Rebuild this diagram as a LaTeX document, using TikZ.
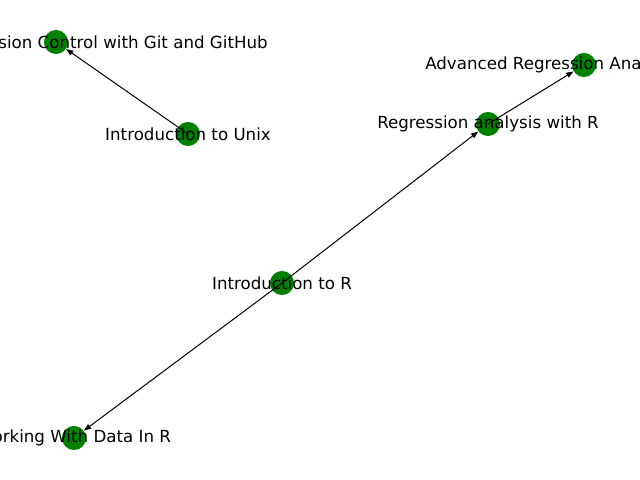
\documentclass[tikz,border=0pt]{standalone}
\usepackage{fontspec}
\setmainfont{DejaVu Sans}
\usetikzlibrary{arrows.meta}
\begin{document}
\begin{tikzpicture}[x=0.72pt,y=-0.72pt,
  vertex/.style={circle,fill=green!50!black,minimum size=17.3pt,inner sep=0pt,draw=none},
  lbl/.style={font=\fontsize{12pt}{14pt}\selectfont,inner sep=0pt,text=black},
  edge/.style={draw=black,line width=0.72pt,-{Triangle[length=5.2pt,width=3.8pt]}}]
\useasboundingbox (0,0) rectangle (640,480);
\clip (0,0) rectangle (640,480);
\fill[white] (0,0) rectangle (640,480);
\node[vertex] (vc) at (56,42) {};
\node[vertex] (ux) at (188,134) {};
\node[vertex] (ar) at (584,65) {};
\node[vertex] (rr) at (488,124) {};
\node[vertex] (ir) at (282,283) {};
\node[vertex] (wd) at (74,438) {};
\draw[edge] (ux.center) -- (vc);
\draw[edge] (ir.center) -- (rr);
\draw[edge] (rr.center) -- (ar);
\draw[edge] (ir.center) -- (wd);
\node[lbl,anchor=east] (tvc) at ([xshift=212*0.72pt]vc.center) {Version Control with Git and GitHub};
\node[lbl] (tux) at (ux.center) {Introduction to Unix};
\node[lbl,anchor=west] (tar) at ([xshift=-159*0.72pt]ar.center) {Advanced Regression Analysis};
\node[lbl] (trr) at (rr.center) {Regression analysis with R};
\node[lbl] (tir) at (ir.center) {Introduction to R};
\node[lbl] (twd) at (wd.center) {Working With Data In R};
\end{tikzpicture}
\end{document}
